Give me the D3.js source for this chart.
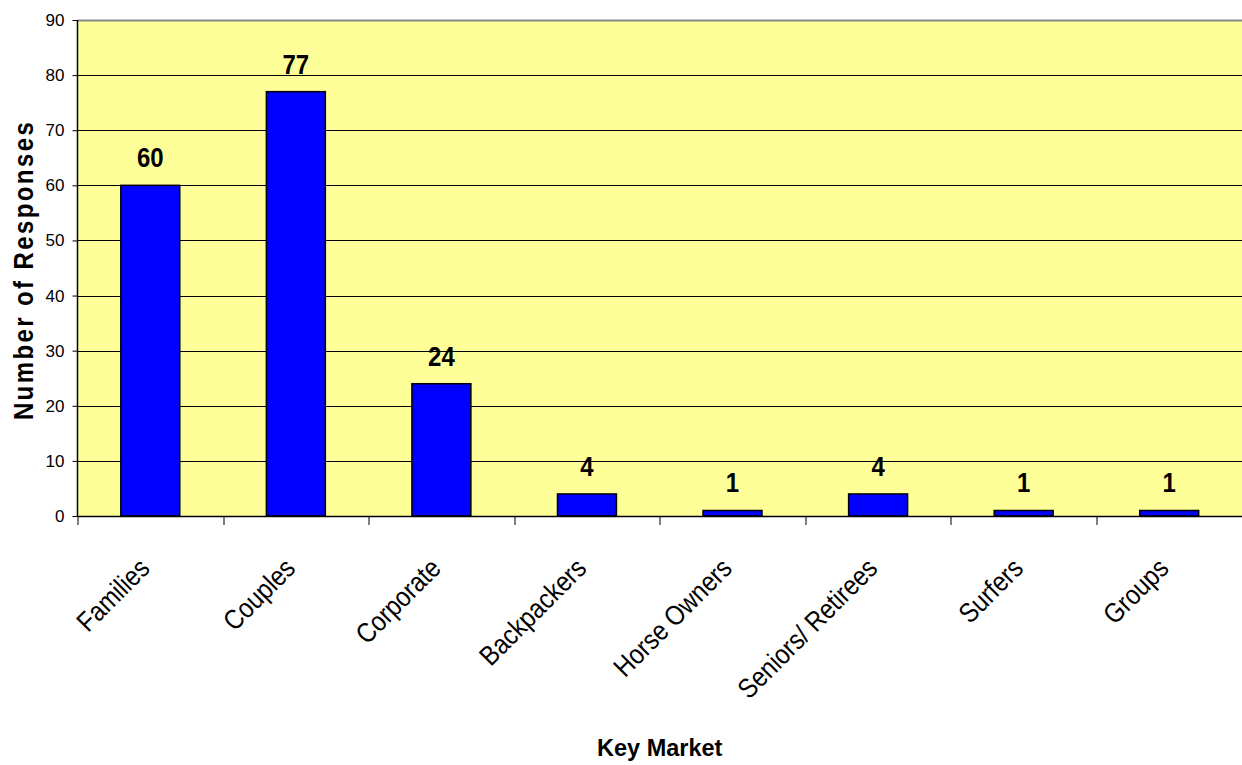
<!DOCTYPE html>
<html>
<head>
<meta charset="utf-8">
<script src="https://cdn.jsdelivr.net/npm/d3@7"></script>
<style>
  html, body { margin: 0; padding: 0; background: #fff; }
  svg { display: block; font-family: Arial, "Liberation Sans", sans-serif; }
</style>
</head>
<body>
<svg id="chart" width="1242" height="765"></svg>
<script>
// Survey responses by key market
const categories = ["Families", "Couples", "Corporate", "Backpackers", "Horse Owners", "Seniors/ Retirees", "Surfers", "Groups"];
const responses = [60, 77, 24, 4, 1, 4, 1, 1];
const yTicks = [0, 10, 20, 30, 40, 50, 60, 70, 80, 90];

const svg = d3.select("#chart");
const margin = { left: 77.5, top: 20, right: 0, bottom: 249 };
const width = 1242 - margin.left - margin.right;
const height = 765 - margin.top - margin.bottom;

const x = d3.scaleBand().domain(categories).range([0, width]).paddingInner(0.595).paddingOuter(0.2975);
const xTick = d3.scaleBand().domain(categories).range([0, width]);
const y = d3.scaleLinear().domain([0, 90]).range([height, 0]);

const g = svg.append("g").attr("transform", `translate(${margin.left},${margin.top})`);

// plot background
g.append("rect").attr("x", 0).attr("y", 0).attr("width", width).attr("height", height).attr("fill", "#FFFF99");

// horizontal gridlines
g.append("g").selectAll("line").data(yTicks.filter(d => d > 0 && d < 90)).join("line")
  .attr("x1", 0).attr("x2", width)
  .attr("y1", d => Math.round(y(d)) + 0.5).attr("y2", d => Math.round(y(d)) + 0.5)
  .attr("stroke", "#000").attr("stroke-width", 1);

// top border
g.append("line").attr("x1", 0).attr("x2", width).attr("y1", 0.5).attr("y2", 0.5)
  .attr("stroke", "#888").attr("stroke-width", 2);

// bars
g.append("g").selectAll("rect").data(categories).join("rect")
  .attr("x", d => x(d))
  .attr("y", (d, i) => y(responses[i]))
  .attr("width", x.bandwidth())
  .attr("height", (d, i) => height - y(responses[i]))
  .attr("fill", "#0000FF").attr("stroke", "#000").attr("stroke-width", 1.5);

// value labels (slightly tall glyphs)
g.append("g").selectAll("text").data(categories).join("text")
  .attr("transform", (d, i) => `translate(${x(d) + x.bandwidth() / 2},${y(responses[i]) - 18}) scale(1,1.12)`)
  .attr("text-anchor", "middle")
  .attr("font-size", 24).attr("font-weight", "bold").attr("fill", "#000")
  .text((d, i) => responses[i]);

// y axis
const yAxis = g.append("g").call(d3.axisLeft(y).tickValues(yTicks).tickSize(5).tickPadding(8));
yAxis.select(".domain").attr("stroke", "#000").attr("stroke-width", 1.5).attr("d", `M0,${height}V0`);
yAxis.selectAll(".tick line").attr("stroke", "#000");
yAxis.selectAll(".tick text").attr("font-size", 17).attr("fill", "#000").attr("font-family", "Arial, 'Liberation Sans', sans-serif");

// x axis with boundary ticks between categories
const xAxisG = g.append("g").attr("transform", `translate(0,${height})`);
xAxisG.append("line").attr("x1", 0).attr("x2", width).attr("y1", 0.5).attr("y2", 0.5).attr("stroke", "#000").attr("stroke-width", 1.5);
xAxisG.selectAll("line.tk").data(categories).join("line").attr("class", "tk")
  .attr("x1", d => Math.round(xTick(d)) + 0.5).attr("x2", d => Math.round(xTick(d)) + 0.5)
  .attr("y1", 0).attr("y2", 9).attr("stroke", "#000").attr("stroke-width", 1);

xAxisG.selectAll("text").data(categories).join("text")
  .attr("transform", d => `translate(${x(d) + x.bandwidth() / 2 + 1},${54}) rotate(-45) scale(1,1.15)`)
  .attr("text-anchor", "end")
  .attr("font-size", 24).attr("fill", "#000")
  .text(d => d);

// axis titles
svg.append("text")
  .attr("transform", `translate(33,${270}) rotate(-90) scale(1,1.16)`)
  .attr("text-anchor", "middle")
  .attr("font-size", 24).attr("font-weight", "bold").attr("letter-spacing", 2.4)
  .text("Number of Responses");

svg.append("text")
  .attr("x", margin.left + width / 2).attr("y", 756)
  .attr("text-anchor", "middle")
  .attr("font-size", 23.5).attr("font-weight", "bold")
  .text("Key Market");
</script>
</body>
</html>
